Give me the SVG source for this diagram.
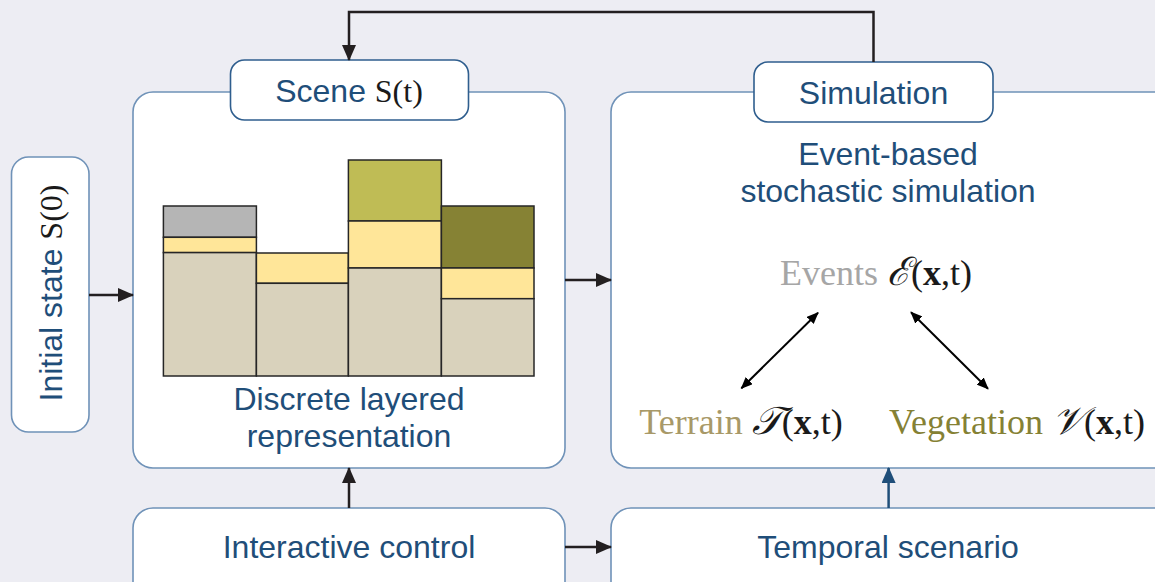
<svg xmlns="http://www.w3.org/2000/svg" width="1155" height="582" viewBox="0 0 1155 582">
<style>
.bg{fill:#EDEDF3}
.box{fill:#FFFFFF;stroke:#6F92B8;stroke-width:1.6}
.tab{fill:#FFFFFF;stroke:#2F5E8E;stroke-width:1.6}
.lbl{font-family:"Liberation Sans",Arial,sans-serif;font-size:32px;fill:#1F4E79}
.math{font-family:"Liberation Serif","Times New Roman",serif;fill:#1A1A1A}
.scr{font-style:italic;font-size:39px}
.bar{stroke:#262626;stroke-width:1.5}
.conn{fill:none;stroke:#231F20;stroke-width:2.5}
.thin{fill:none;stroke:#000000;stroke-width:2}
</style>
<defs>
<marker id="ah" markerUnits="userSpaceOnUse" markerWidth="16" markerHeight="14" refX="15" refY="7" orient="auto">
<path d="M0,0 L16,7 L0,14 Z" fill="#231F20"/>
</marker>
<marker id="ahb" markerUnits="userSpaceOnUse" markerWidth="16" markerHeight="14" refX="15" refY="7" orient="auto">
<path d="M0,0 L16,7 L0,14 Z" fill="#1F4E79"/>
</marker>
<marker id="as" markerUnits="userSpaceOnUse" markerWidth="12" markerHeight="10" refX="11" refY="5" orient="auto-start-reverse">
<path d="M0,0 L12,5 L0,10 Z" fill="#000000"/>
</marker>
</defs>
<rect class="bg" x="0" y="0" width="1155" height="582"/>

<g id="initial-state">
<rect class="box" x="11.5" y="157" width="77.5" height="275" rx="17"/>
<text class="lbl" transform="translate(62,293) rotate(-90)" text-anchor="middle">Initial state <tspan class="math">S(0)</tspan></text>
</g>

<g id="scene">
<rect class="box" x="133" y="92" width="432" height="376" rx="20"/>
<g id="layers">
<rect class="bar" x="163.4" y="206" width="93" height="31.3" fill="#B5B5B5"/>
<rect class="bar" x="163.4" y="237.3" width="93" height="15.3" fill="#FFE699"/>
<rect class="bar" x="163.4" y="252.6" width="93" height="123.4" fill="#D9D2BC"/>
<rect class="bar" x="256.4" y="253" width="92" height="30.3" fill="#FFE699"/>
<rect class="bar" x="256.4" y="283.3" width="92" height="92.7" fill="#D9D2BC"/>
<rect class="bar" x="348.4" y="160" width="93" height="61" fill="#BFBC55"/>
<rect class="bar" x="348.4" y="221" width="93" height="47" fill="#FFE699"/>
<rect class="bar" x="348.4" y="268" width="93" height="108" fill="#D9D2BC"/>
<rect class="bar" x="441.4" y="206" width="92.6" height="62" fill="#868234"/>
<rect class="bar" x="441.4" y="268" width="92.6" height="30.7" fill="#FFE699"/>
<rect class="bar" x="441.4" y="298.7" width="92.6" height="77.3" fill="#D9D2BC"/>
</g>
<text class="lbl" x="349" y="410" text-anchor="middle">Discrete layered</text>
<text class="lbl" x="349" y="447" text-anchor="middle">representation</text>
</g>

<g id="scene-tab">
<rect class="tab" x="230.5" y="60" width="238" height="60" rx="14"/>
<text class="lbl" x="349" y="101.5" text-anchor="middle">Scene <tspan class="math">S(t)</tspan></text>
</g>

<g id="simulation">
<rect class="box" x="611" y="92" width="566" height="376" rx="20"/>
<text class="lbl" x="888" y="165" text-anchor="middle">Event-based</text>
<text class="lbl" x="888" y="202" text-anchor="middle">stochastic simulation</text>
<text class="math" x="876" y="285" text-anchor="middle" font-size="36"><tspan fill="#A6A6A6">Events </tspan><tspan class="scr">ℰ</tspan>(<tspan font-weight="bold">x</tspan>,t)</text>
<text class="math" x="741" y="434" text-anchor="middle" font-size="36"><tspan fill="#A89968">Terrain </tspan><tspan class="scr">𝒯</tspan>(<tspan font-weight="bold">x</tspan>,t)</text>
<text class="math" x="1017" y="434" text-anchor="middle" font-size="36"><tspan fill="#858134">Vegetation </tspan><tspan class="scr">𝒱</tspan>(<tspan font-weight="bold">x</tspan>,t)</text>
</g>

<g id="simulation-tab">
<rect class="tab" x="754" y="62" width="239" height="60" rx="14"/>
<text class="lbl" x="873.5" y="103.5" text-anchor="middle">Simulation</text>
</g>

<g id="interactive-control">
<rect class="box" x="133" y="508" width="432" height="100" rx="20"/>
<text class="lbl" x="349" y="558" text-anchor="middle">Interactive control</text>
</g>

<g id="temporal-scenario">
<rect class="box" x="611" y="508" width="566" height="100" rx="20"/>
<text class="lbl" x="888" y="558" text-anchor="middle">Temporal scenario</text>
</g>

<g id="connectors">
<path class="conn" d="M873.5,62 V12 H349 V60" marker-end="url(#ah)"/>
<path class="conn" d="M89,295 H133" marker-end="url(#ah)"/>
<path class="conn" d="M565,280 H611" marker-end="url(#ah)"/>
<path class="conn" d="M565,547 H611" marker-end="url(#ah)"/>
<path class="conn" d="M349,508 V468" marker-end="url(#ah)"/>
<path class="conn" d="M888.6,508 V468" style="stroke:#1F4E79" marker-end="url(#ahb)"/>
<path class="thin" d="M741.4,388.3 L818,312.7" marker-start="url(#as)" marker-end="url(#as)"/>
<path class="thin" d="M911,312.3 L988,388.7" marker-start="url(#as)" marker-end="url(#as)"/>
</g>
</svg>
